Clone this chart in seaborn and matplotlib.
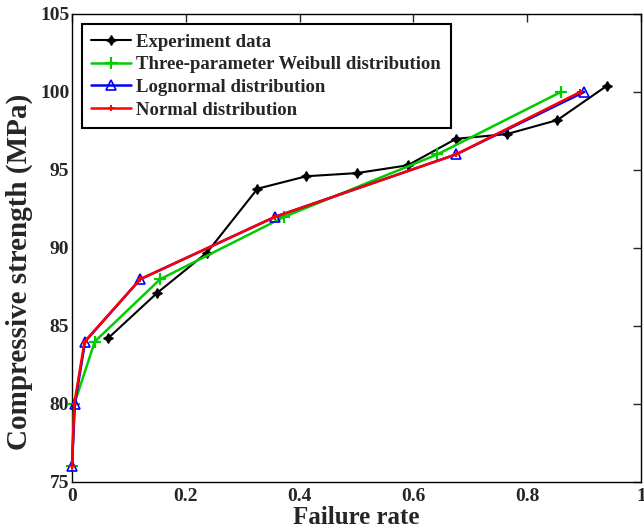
import matplotlib
matplotlib.use("Agg")
import matplotlib.pyplot as plt
import seaborn as sns
import pandas as pd

# Experiment data
exp_x = [0.063, 0.149, 0.237, 0.326, 0.412, 0.500, 0.590, 0.675, 0.764, 0.853, 0.940]
exp_y = [84.2, 87.1, 89.7, 93.8, 94.6, 94.8, 95.3, 97.0, 97.3, 98.2, 100.4]

# Three-parameter Weibull distribution
wei_x = [0.000, 0.004, 0.040, 0.155, 0.373, 0.642, 0.859]
wei_y = [76.0, 80.0, 84.0, 88.0, 92.0, 96.0, 100.0]

# Lognormal distribution
log_x = [0.000, 0.005, 0.023, 0.120, 0.357, 0.675, 0.900]
log_y = [76.0, 80.0, 84.0, 88.0, 92.0, 96.0, 100.0]

# Normal distribution
nor_x = [0.000, 0.004, 0.022, 0.120, 0.357, 0.675, 0.893]
nor_y = [76.0, 80.0, 84.0, 88.0, 92.0, 96.0, 100.0]

labels = ["Experiment data", "Three-parameter Weibull distribution",
          "Lognormal distribution", "Normal distribution"]

x_ticks = [0, 0.2, 0.4, 0.6, 0.8, 1]
x_tick_labels = ["0", "0.2", "0.4", "0.6", "0.8", "1"]
y_ticks = [75, 80, 85, 90, 95, 100, 105]

sns.set_style("white")
plt.rcParams['font.family'] = ['Liberation Serif', 'DejaVu Serif']
plt.rcParams['font.weight'] = 'bold'

fig = plt.figure(figsize=(6.44, 5.32), dpi=100)
ax = fig.add_axes([72/644, 50/532, 569/644, 468/532])

styles = [
    dict(color="black", marker=(4, 1, 0), markersize=7, linewidth=1.5,
         markerfacecolor="black", markeredgecolor="black", markeredgewidth=1.0),
    dict(color="#00cc00", marker="+", markersize=8, linewidth=1.8,
         markerfacecolor="#00cc00", markeredgecolor="#00cc00", markeredgewidth=1.6),
    dict(color="#0000ff", marker="^", markersize=7, linewidth=1.8,
         markerfacecolor="none", markeredgecolor="#0000ff", markeredgewidth=1.2),
    dict(color="#ff0000", marker="+", markersize=4, linewidth=1.8,
         markerfacecolor="#ff0000", markeredgecolor="#ff0000", markeredgewidth=1.4),
]
series = [(exp_x, exp_y), (wei_x, wei_y), (log_x, log_y), (nor_x, nor_y)]

for (xs, ys), lab, st in zip(series, labels, styles):
    df = pd.DataFrame({"x": xs, "y": ys})
    sns.lineplot(data=df, x="x", y="y", ax=ax, sort=False, estimator=None,
                 label=lab, **st)
for ln in ax.get_lines():
    ln.set_clip_on(False)

ax.set_xlim(0, 1)
ax.set_ylim(75, 105)
ax.set_xticks(x_ticks)
ax.set_xticklabels(x_tick_labels)
ax.set_yticks(y_ticks)
ax.tick_params(direction="in", top=True, right=True, length=6, width=1,
               labelsize=14, pad=4)
ax.tick_params(axis="y", pad=2)
for lab in ax.get_xticklabels() + ax.get_yticklabels():
    lab.set_fontweight("bold")
for sp in ax.spines.values():
    sp.set_linewidth(1.0)
    sp.set_color("black")
    sp.set_zorder(1)

ax.set_xlabel("Failure rate", fontsize=18, fontweight="bold", labelpad=1)
ax.set_ylabel("Compressive strength (MPa)", fontsize=21, fontweight="bold")
ax.yaxis.set_label_coords(-0.068, 0.45)

leg = ax.legend(loc="upper left", bbox_to_anchor=(0.0176, 0.9786),
                prop=dict(family="Liberation Serif", weight="bold", size=13.5),
                frameon=True, fancybox=False, borderaxespad=0,
                handlelength=2.1, handletextpad=0.3, labelspacing=0.3,
                borderpad=0.5)
leg.get_frame().set_edgecolor("black")
leg.get_frame().set_linewidth(1.5)
leg.get_frame().set_alpha(1)

fig.savefig("out.png", dpi=100)
